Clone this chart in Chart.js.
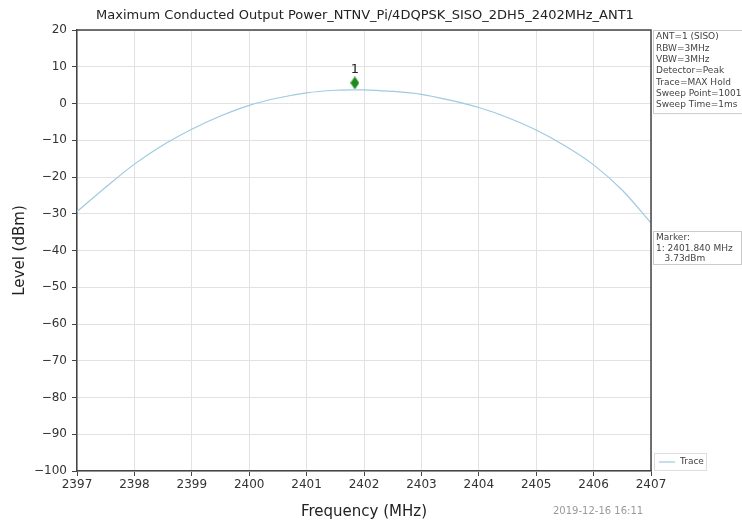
<!DOCTYPE html>
<html>
<head>
<meta charset="utf-8">
<script src="https://cdn.jsdelivr.net/npm/chart.js@4.4.0/dist/chart.umd.min.js"></script>
<style>
  html, body { margin: 0; padding: 0; background: #fff; }
  #wrap { width: 742px; height: 527px; position: relative; }
</style>
</head>
<body>
<div id="wrap"><canvas id="plot" width="742" height="527"></canvas></div>
<script>
// trace, 0.5 MHz steps
const freqMHz = [2397, 2397.5, 2398, 2398.5, 2399, 2399.5, 2400, 2400.5, 2401, 2401.5,
                 2401.84, 2402, 2402.5, 2403, 2403.5, 2404, 2404.5, 2405, 2405.5, 2406, 2406.5, 2407];
const levelDbm = [-29.4, -22.8, -16.5, -11.3, -7.0, -3.4, -0.5, 1.5, 2.9, 3.6,
                  3.73, 3.7, 3.3, 2.5, 0.9, -1.1, -3.8, -7.2, -11.5, -16.7, -23.6, -32.5];

const markerFreq = [2401.84];
const markerLevel = [5.6];
const markerLabels = ['1'];

const infoLines = ['ANT=1 (SISO)', 'RBW=3MHz', 'VBW=3MHz', 'Detector=Peak', 'Trace=MAX Hold', 'Sweep Point=1001', 'Sweep Time=1ms'];
const markerLines = ['Marker:', '1: 2401.840 MHz', '   3.73dBm'];
const chartTitle = 'Maximum Conducted Output Power_NTNV_Pi/4DQPSK_SISO_2DH5_2402MHz_ANT1';
const stamp = '2019-12-16 16:11';

const FONT = "'DejaVu Sans', sans-serif";

const decorPlugin = {
    id: 'decor',
    afterDraw(chart) {
        const { ctx, chartArea: a } = chart;
        ctx.save();

        // frame top/right
        ctx.strokeStyle = '#444';
        ctx.lineWidth = 1.5;
        ctx.beginPath();
        ctx.moveTo(a.left, a.top);
        ctx.lineTo(a.right, a.top);
        ctx.lineTo(a.right, a.bottom);
        ctx.stroke();

        // title
        ctx.fillStyle = '#222';
        ctx.font = '13px ' + FONT;
        ctx.textAlign = 'center';
        ctx.textBaseline = 'middle';
        ctx.fillText(chartTitle, 365, 16);

        // marker label
        const meta = chart.getDatasetMeta(1);
        meta.data.forEach((pt, i) => {
            ctx.font = '13px ' + FONT;
            ctx.fillStyle = '#222';
            ctx.fillText(markerLabels[i], pt.x, pt.y - 13);
        });

        // info box
        ctx.font = '9px ' + FONT;
        ctx.textAlign = 'left';
        ctx.strokeStyle = '#ccc';
        ctx.lineWidth = 1;
        ctx.strokeRect(a.right + 2.5, a.top + 0.5, 92, infoLines.length * 11.3 + 4);
        ctx.fillStyle = '#444';
        infoLines.forEach((t, i) => ctx.fillText(t, a.right + 5, a.top + 7 + i * 11.3));

        // marker box
        ctx.strokeRect(a.right + 2.5, 231.5, 88, 33);
        markerLines.forEach((t, i) => ctx.fillText(t, a.right + 5, 238 + i * 10.5));

        // legend
        ctx.strokeStyle = '#ddd';
        ctx.strokeRect(a.right + 3.5, 453.5, 52, 17);
        ctx.strokeStyle = '#9ecae1';
        ctx.lineWidth = 1.2;
        ctx.beginPath();
        ctx.moveTo(a.right + 8, 462);
        ctx.lineTo(a.right + 24, 462);
        ctx.stroke();
        ctx.fillStyle = '#444';
        ctx.fillText('Trace', a.right + 29, 462);

        // timestamp
        ctx.fillStyle = '#999';
        ctx.font = '10px ' + FONT;
        ctx.fillText(stamp, 553, 511);

        ctx.restore();
    }
};

// thin diamond like the analyser marker
const diamond = document.createElement('canvas');
diamond.width = 9; diamond.height = 13;
(function () {
    const c = diamond.getContext('2d');
    c.fillStyle = '#1e8a1e';
    c.beginPath();
    c.moveTo(4.5, 0); c.lineTo(9, 6.5); c.lineTo(4.5, 13); c.lineTo(0, 6.5);
    c.closePath(); c.fill();
})();

new Chart(document.getElementById('plot').getContext('2d'), {
    type: 'scatter',
    data: {
        datasets: [{
            label: 'Trace',
            data: freqMHz.map((f, i) => ({ x: f, y: levelDbm[i] })),
            showLine: true,
            borderColor: '#9ecae1',
            borderWidth: 1.2,
            pointRadius: 0,
            tension: 0.35
        }, {
            label: 'Marker',
            data: markerFreq.map((f, i) => ({ x: f, y: markerLevel[i] })),
            pointStyle: diamond,
            pointRadius: 5
        }]
    },
    options: {
        responsive: false,
        animation: false,
        layout: { padding: { left: 0, right: 91, top: 30, bottom: 0 } },
        plugins: { legend: { display: false }, tooltip: { enabled: false } },
        scales: {
            x: {
                type: 'linear', min: 2397, max: 2407,
                ticks: { stepSize: 1, color: '#333', font: { family: FONT, size: 12 }, padding: 2, maxRotation: 0,
                         callback: v => String(v) },
                grid: { color: '#e2e2e2', tickColor: '#444', tickLength: 5 },
                border: { color: '#444', width: 1.5 },
                title: { display: true, text: 'Frequency (MHz)', color: '#222', font: { family: FONT, size: 15 }, padding: { top: 4, bottom: 6 } },
                afterFit(s) { s.height = 56; }
            },
            y: {
                min: -100, max: 20,
                ticks: { stepSize: 10, color: '#333', font: { family: FONT, size: 12 }, padding: 5,
                         callback: v => String(v).replace('-', '\u2212') },
                grid: { color: '#e2e2e2', tickColor: '#444', tickLength: 5 },
                border: { color: '#444', width: 1.5 },
                title: { display: true, text: 'Level (dBm)', color: '#222', font: { family: FONT, size: 15 }, padding: { top: 11, bottom: 4 } },
                afterFit(s) { s.width = 77; }
            }
        }
    },
    plugins: [decorPlugin]
});
</script>
</body>
</html>
